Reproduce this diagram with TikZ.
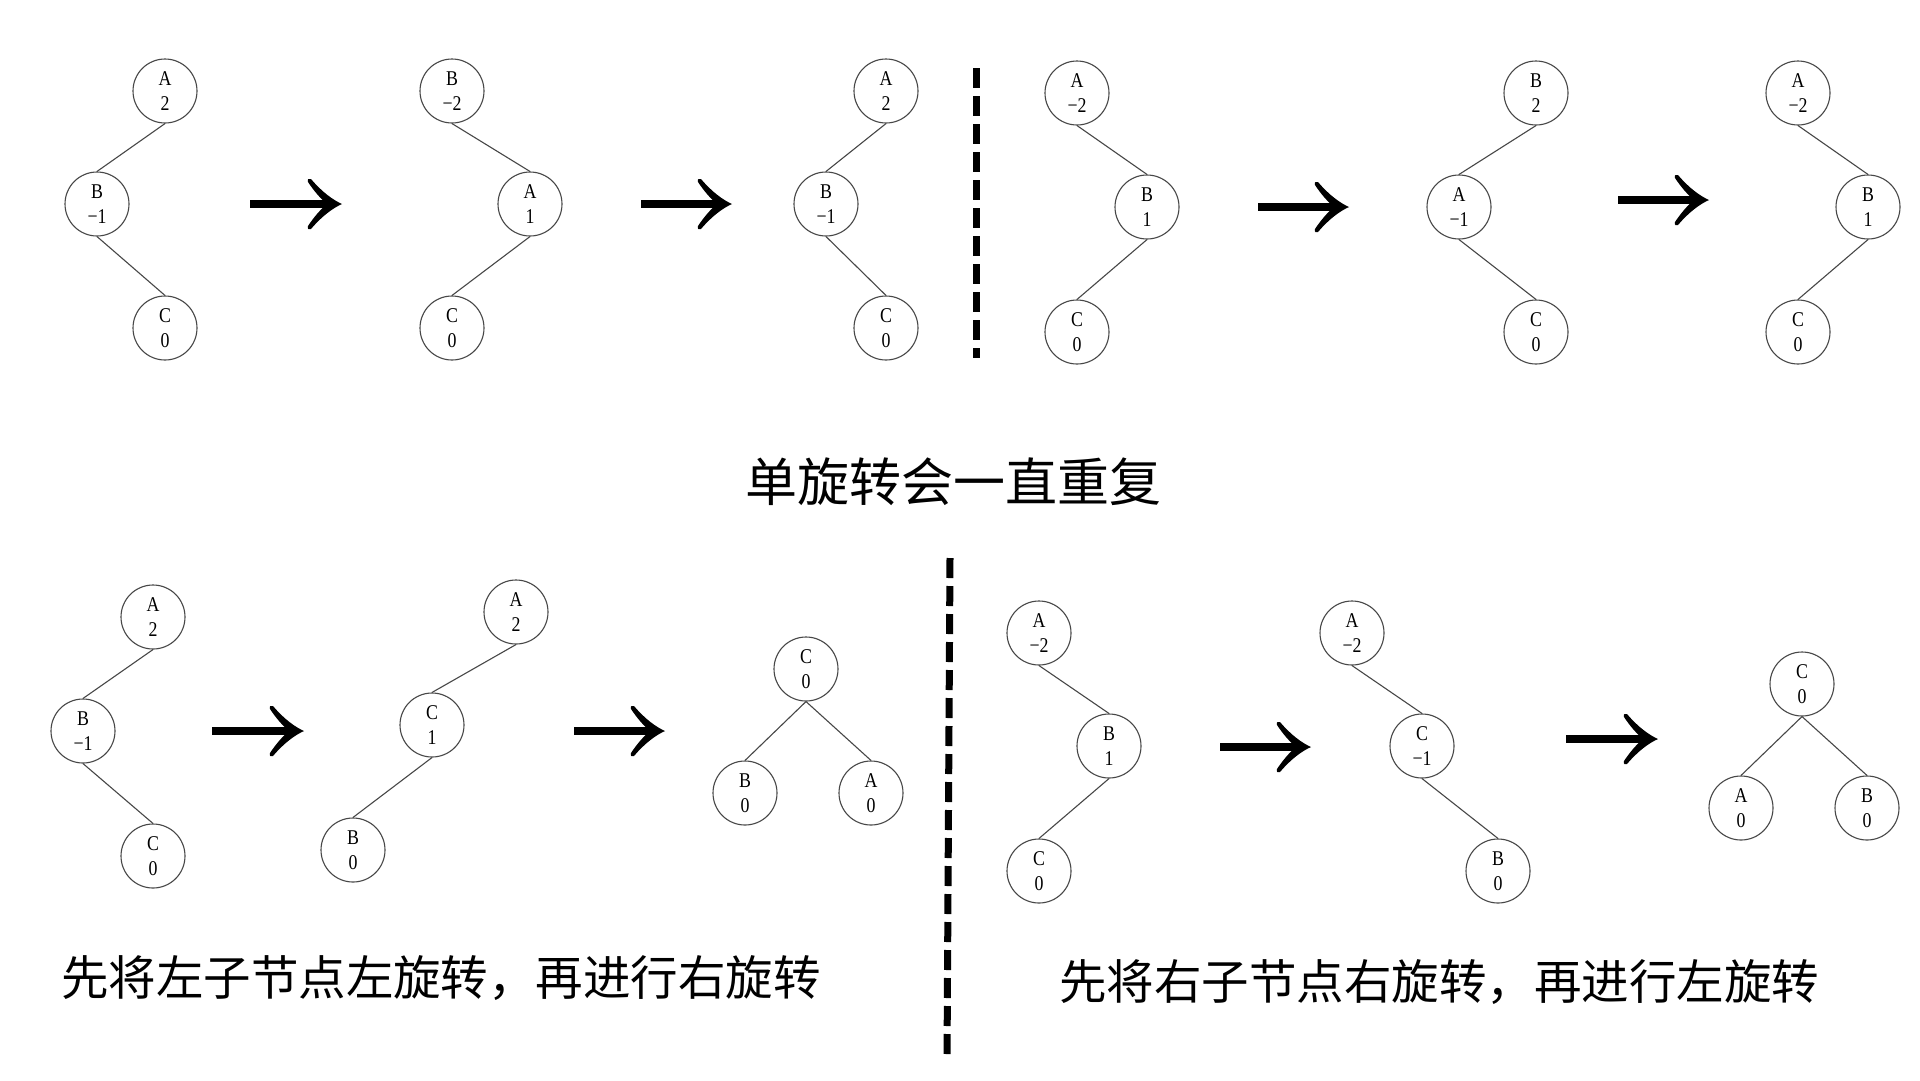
\documentclass[tikz,border=0pt]{standalone}
\usepackage{fontspec}
\usetikzlibrary{calc}
\newfontfamily\labelfont[FakeStretch=0.85]{Liberation Serif}
\newfontfamily\cjkfont{Noto Sans CJK SC}
\newcommand\bigarrow[2]{%
  \draw[shaft] (#1) -- ($(#2)+(-8,0)$);
  \fill[shift={(#2)}] (0,0) .. controls (-9,-4) and (-20,-12) .. (-31,-25)
    .. controls (-33,-26) and (-35,-25) .. (-34,-22)
    .. controls (-28,-13) and (-22,-6) .. (-15,0)
    .. controls (-22,6) and (-28,13) .. (-34,22)
    .. controls (-35,25) and (-33,26) .. (-31,25)
    .. controls (-20,12) and (-9,4) .. (0,0) -- cycle;}
\begin{document}
\begin{tikzpicture}[x=1pt,y=-1pt,
  tnode/.style={circle, draw=black!72, line width=1.1pt, minimum size=64pt, inner sep=0pt,
    align=center, font=\labelfont\fontsize{21}{25}\selectfont},
  tedge/.style={draw=black!72, line width=1.1pt},
  sepline/.style={line width=7pt, dash pattern=on 20pt off 8pt},
  shaft/.style={line width=8pt},
  caption/.style={font=\cjkfont\fontsize{47.5}{52}\selectfont, inner sep=0pt},
]
\useasboundingbox[fill=white] (0,0) rectangle (1920,1080);

% ---------- top row ----------
% tree 1
\node[tnode] (t1a) at (165,91) {A\\2};
\node[tnode] (t1b) at (97,204) {B\\−1};
\node[tnode] (t1c) at (165,328) {C\\0};
\draw[tedge] (t1a.south) -- (t1b.north);
\draw[tedge] (t1b.south) -- (t1c.north);
% tree 2
\node[tnode] (t2b) at (452,91) {B\\−2};
\node[tnode] (t2a) at (530,204) {A\\1};
\node[tnode] (t2c) at (452,328) {C\\0};
\draw[tedge] (t2b.south) -- (t2a.north);
\draw[tedge] (t2a.south) -- (t2c.north);
% tree 3
\node[tnode] (t3a) at (886,91) {A\\2};
\node[tnode] (t3b) at (826,204) {B\\−1};
\node[tnode] (t3c) at (886,328) {C\\0};
\draw[tedge] (t3a.south) -- (t3b.north);
\draw[tedge] (t3b.south) -- (t3c.north);
% tree 4
\node[tnode] (t4a) at (1077,93) {A\\−2};
\node[tnode] (t4b) at (1147,207) {B\\1};
\node[tnode] (t4c) at (1077,332) {C\\0};
\draw[tedge] (t4a.south) -- (t4b.north);
\draw[tedge] (t4b.south) -- (t4c.north);
% tree 5
\node[tnode] (t5b) at (1536,93) {B\\2};
\node[tnode] (t5a) at (1459,207) {A\\−1};
\node[tnode] (t5c) at (1536,332) {C\\0};
\draw[tedge] (t5b.south) -- (t5a.north);
\draw[tedge] (t5a.south) -- (t5c.north);
% tree 6
\node[tnode] (t6a) at (1798,93) {A\\−2};
\node[tnode] (t6b) at (1868,207) {B\\1};
\node[tnode] (t6c) at (1798,332) {C\\0};
\draw[tedge] (t6a.south) -- (t6b.north);
\draw[tedge] (t6b.south) -- (t6c.north);

% arrows top
\coordinate (a1s) at (250,204); \coordinate (a1e) at (342,204);
\coordinate (a2s) at (641,204); \coordinate (a2e) at (732,204);
\coordinate (a3s) at (1258,207); \coordinate (a3e) at (1349,207);
\coordinate (a4s) at (1618,200); \coordinate (a4e) at (1709,200);
\bigarrow{a1s}{a1e}
\bigarrow{a2s}{a2e}
\bigarrow{a3s}{a3e}
\bigarrow{a4s}{a4e}

% separator top
\coordinate (d1s) at (976,68); \coordinate (d1e) at (976,358);
\draw[sepline] (d1s) -- (d1e);

% middle caption
\node[caption, font=\cjkfont\fontsize{52}{58}\selectfont] (cap1) at (953,482) {单旋转会一直重复};

% ---------- bottom row ----------
% tree 7
\node[tnode] (t7a) at (153,617) {A\\2};
\node[tnode] (t7b) at (83,731) {B\\−1};
\node[tnode] (t7c) at (153,856) {C\\0};
\draw[tedge] (t7a.south) -- (t7b.north);
\draw[tedge] (t7b.south) -- (t7c.north);
% tree 8
\node[tnode] (t8a) at (516,612) {A\\2};
\node[tnode] (t8c) at (432,725) {C\\1};
\node[tnode] (t8b) at (353,850) {B\\0};
\draw[tedge] (t8a.south) -- (t8c.north);
\draw[tedge] (t8c.south) -- (t8b.north);
% tree 9
\node[tnode] (t9c) at (806,669) {C\\0};
\node[tnode] (t9b) at (745,793) {B\\0};
\node[tnode] (t9a) at (871,793) {A\\0};
\draw[tedge] (t9c.south) -- (t9b.north);
\draw[tedge] (t9c.south) -- (t9a.north);
% tree 10
\node[tnode] (t10a) at (1039,633) {A\\−2};
\node[tnode] (t10b) at (1109,746) {B\\1};
\node[tnode] (t10c) at (1039,871) {C\\0};
\draw[tedge] (t10a.south) -- (t10b.north);
\draw[tedge] (t10b.south) -- (t10c.north);
% tree 11
\node[tnode] (t11a) at (1352,633) {A\\−2};
\node[tnode] (t11c) at (1422,746) {C\\−1};
\node[tnode] (t11b) at (1498,871) {B\\0};
\draw[tedge] (t11a.south) -- (t11c.north);
\draw[tedge] (t11c.south) -- (t11b.north);
% tree 12
\node[tnode] (t12c) at (1802,684) {C\\0};
\node[tnode] (t12a) at (1741,808) {A\\0};
\node[tnode] (t12b) at (1867,808) {B\\0};
\draw[tedge] (t12c.south) -- (t12a.north);
\draw[tedge] (t12c.south) -- (t12b.north);

% arrows bottom
\coordinate (a5s) at (212,731); \coordinate (a5e) at (304,731);
\coordinate (a6s) at (574,731); \coordinate (a6e) at (665,731);
\coordinate (a7s) at (1220,747); \coordinate (a7e) at (1311,747);
\coordinate (a8s) at (1566,739); \coordinate (a8e) at (1658,739);
\bigarrow{a5s}{a5e}
\bigarrow{a6s}{a6e}
\bigarrow{a7s}{a7e}
\bigarrow{a8s}{a8e}

% separator bottom
\coordinate (d2s) at (950,558); \coordinate (d2e) at (947,1060);
\draw[sepline] (d2s) -- (d2e);

% bottom captions
\node[caption] (cap2) at (441,978) {先将左子节点左旋转，再进行右旋转};
\node[caption] (cap3) at (1439,982) {先将右子节点右旋转，再进行左旋转};
\end{tikzpicture}
\end{document}
